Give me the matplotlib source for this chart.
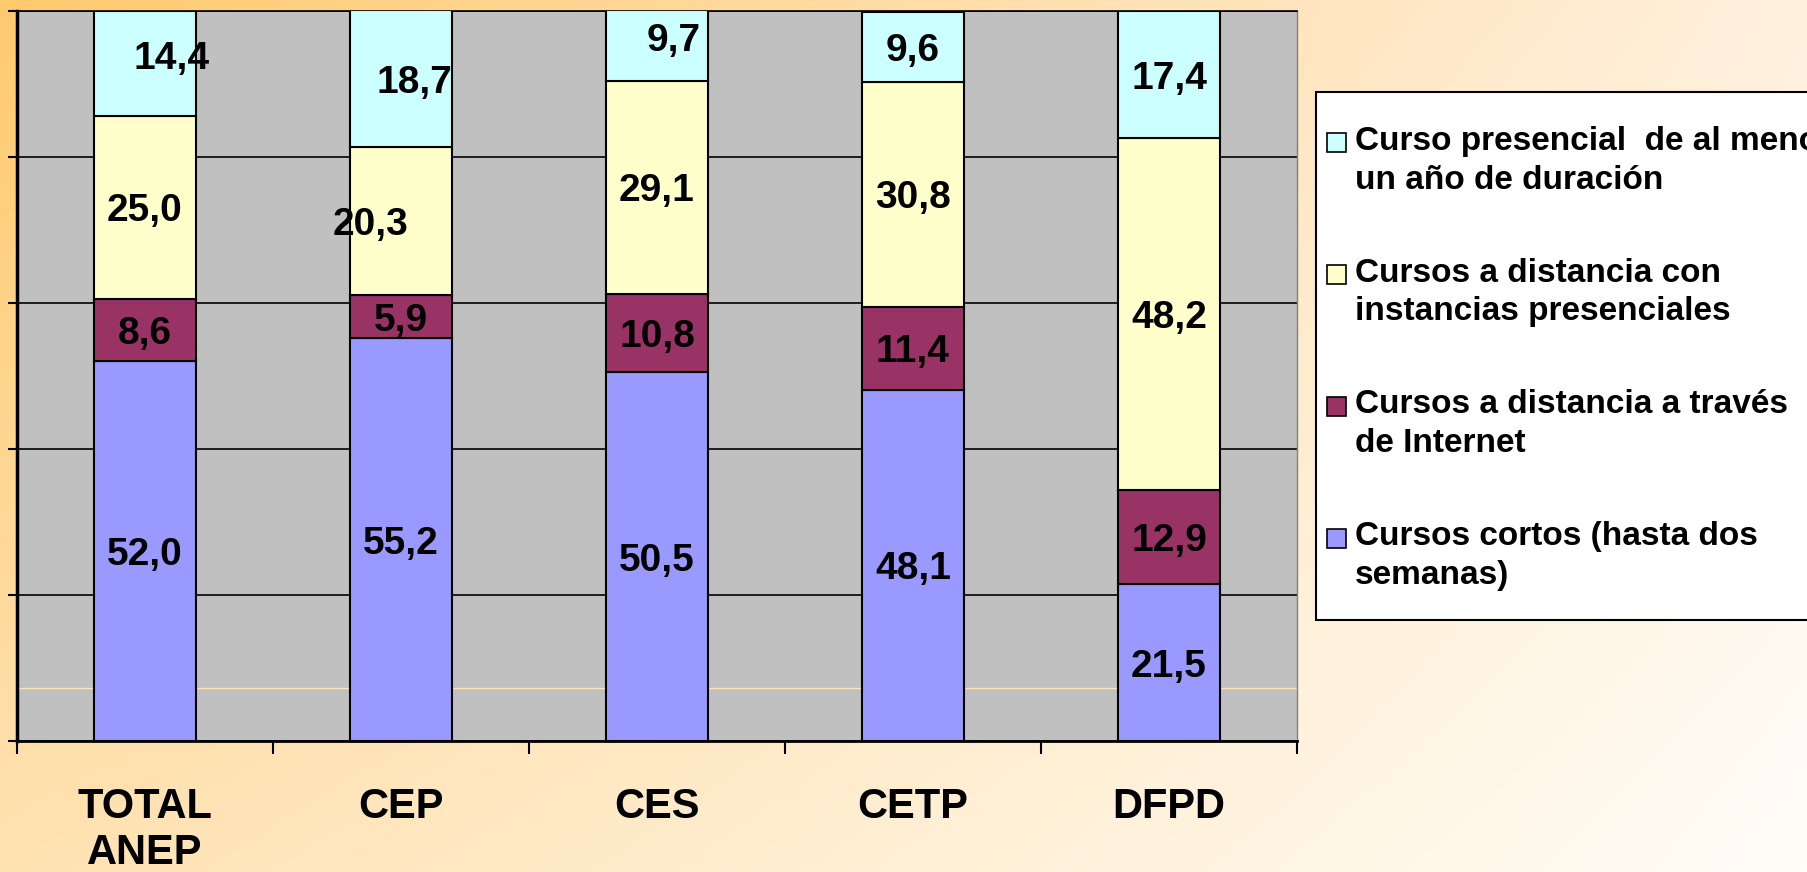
import numpy as np
import matplotlib
matplotlib.use('Agg')
import matplotlib.pyplot as plt
from matplotlib.patches import Rectangle

plt.rcParams['font.family'] = ['Liberation Sans', 'DejaVu Sans']

categories = ['TOTAL\nANEP', 'CEP', 'CES', 'CETP', 'DFPD']
cortos = [52.0, 55.2, 50.5, 48.1, 21.5]
internet = [8.6, 5.9, 10.8, 11.4, 12.9]
distancia_presencial = [25.0, 20.3, 29.1, 30.8, 48.2]
presencial_anual = [14.4, 18.7, 9.7, 9.6, 17.4]

series_names = [
    'Cursos cortos (hasta dos\nsemanas)',
    'Cursos a distancia a través\nde Internet',
    'Cursos a distancia con\ninstancias presenciales',
    'Curso presencial  de al menos\nun año de duración',
]
series_values = [cortos, internet, distancia_presencial, presencial_anual]
colors = ['#9999FF', '#993366', '#FFFFCC', '#CCFFFF']

# a few labels sit off-centre in the original (points, keyed by (bar, series))
label_nudge = {(0, 3): (19, 6), (1, 3): (10, 0), (1, 2): (-22, 0), (2, 3): (12, 6)}

W, H = 1808, 872
fig = plt.figure(figsize=(W / 100, H / 100), dpi=100)

# slide background: orange top-left fading to near white bottom-right
tl = np.array([255, 202, 110]) / 255
tr = np.array([255, 240, 222]) / 255
bl = np.array([255, 226, 178]) / 255
br = np.array([255, 253, 248]) / 255
ys = np.linspace(0, 1, 200)[:, None, None]
xs = np.linspace(0, 1, 400)[None, :, None]
grad = (1 - ys) * ((1 - xs) * tl + xs * tr) + ys * ((1 - xs) * bl + xs * br)
bg = fig.add_axes([0, 0, 1, 1])
bg.imshow(grad, extent=[0, 1, 0, 1], aspect='auto')
bg.axis('off')

ax = fig.add_axes([17 / W, 1 - 741 / H, (1297 - 17) / W, (741 - 11) / H])
ax.set_facecolor('#C0C0C0')

x = np.arange(len(categories))
bottom = np.zeros(len(categories))
for i, (vals, c) in enumerate(zip(series_values, colors)):
    ax.bar(x, vals, 0.4, bottom=bottom, color=c, edgecolor='black', linewidth=1.5, zorder=3)
    for j, v in enumerate(vals):
        dx, dy = label_nudge.get((j, i), (0, 0))
        ax.annotate(f'{v:.1f}'.replace('.', ','), (x[j], bottom[j] + v / 2),
                    xytext=(dx, dy), textcoords='offset points',
                    ha='center', va='center_baseline', fontsize=28,
                    fontweight='bold', zorder=4)
    bottom += np.array(vals)

ax.set_xlim(-0.5, 4.5)
ax.set_ylim(0, 100)
ax.set_yticks(np.arange(0, 101, 20))
ax.set_yticklabels([])
ax.set_axisbelow(True)
ax.yaxis.grid(True, color='black', linewidth=1.2)
ax.axhline(7.3, color='#FFE6B8', linewidth=1, zorder=1)

ax.set_xticks(np.arange(-0.5, 5, 1))
ax.set_xticklabels([])
ax.set_xticks(x, minor=True)
ax.set_xticklabels(categories, minor=True, fontsize=30, fontweight='bold')
ax.tick_params(axis='x', which='major', length=9.5, width=1.5, direction='out')
ax.tick_params(axis='x', which='minor', length=0, pad=33)
ax.tick_params(axis='y', length=6.5, width=1.5, direction='out')

ax.spines['left'].set_linewidth(2.5)
ax.spines['bottom'].set_linewidth(2)
ax.spines['top'].set_linewidth(1.2)
ax.spines['right'].set_color('#808080')
ax.spines['right'].set_linewidth(1)

# legend box, runs off the right edge like the slide
fig.add_artist(Rectangle((1316 / W, 1 - 620 / H), 600 / W, (620 - 92) / H,
                         transform=fig.transFigure, facecolor='white',
                         edgecolor='black', linewidth=1.5, zorder=5))
for k, i in enumerate(reversed(range(len(series_names)))):
    yc = 143 + k * 131.7
    fig.add_artist(Rectangle((1327 / W, 1 - (yc + 9.5) / H), 19 / W, 19 / H,
                             transform=fig.transFigure, facecolor=colors[i],
                             edgecolor='black', linewidth=1.2, zorder=6))
    fig.text(1355 / W, 1 - (yc - 17) / H, series_names[i], ha='left', va='top',
             fontsize=24, fontweight='bold', linespacing=1.32, zorder=6)

fig.savefig('out.png', dpi=100)
